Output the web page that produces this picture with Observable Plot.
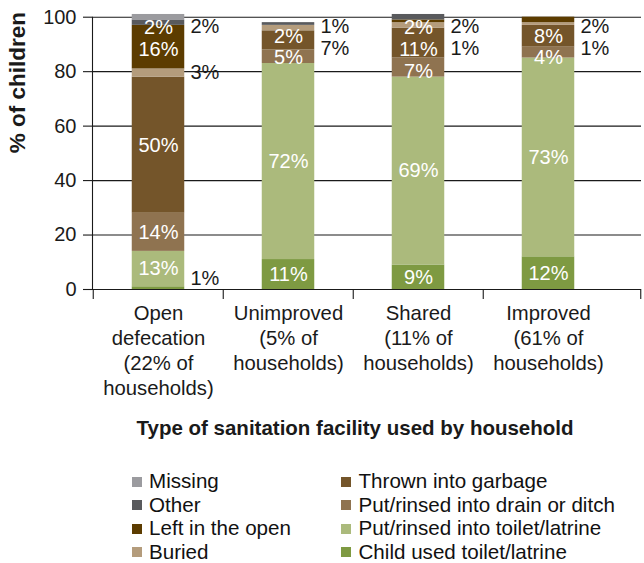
<!DOCTYPE html>
<html><head><meta charset="utf-8">
<script src="https://cdn.jsdelivr.net/npm/d3@7"></script>
<script src="https://cdn.jsdelivr.net/npm/@observablehq/plot@0.6"></script>
<style>
body{margin:0;background:#fff;font-family:"Liberation Sans",Arial,sans-serif;}
#legend{display:grid;grid-auto-flow:column;grid-template-rows:repeat(4,23.5px);grid-template-columns:209.5px auto;margin-left:131.5px;font-size:20.6px;line-height:1.1;color:#111;}
.item{display:flex;align-items:center;white-space:nowrap;}
.sw{width:10px;height:10px;margin-right:7.5px;flex:none;}
</style></head><body><div id="chart"></div><div id="legend"></div>
<script>
// ---- data ----
const categories = [
  "Open\ndefecation\n(22% of\nhouseholds)",
  "Unimproved\n(5% of\nhouseholds)",
  "Shared\n(11% of\nhouseholds)",
  "Improved\n(61% of\nhouseholds)"
];
// stacking order, bottom to top
const series = [
  "Child used toilet/latrine",
  "Put/rinsed into toilet/latrine",
  "Put/rinsed into drain or ditch",
  "Thrown into garbage",
  "Buried",
  "Left in the open",
  "Other",
  "Missing"
];
const childUsed   = [1, 11, 9, 12];
const toiletRinse = [13, 72, 69, 73];
const drainDitch  = [14, 5, 7, 4];
const garbage     = [50, 7, 11, 8];
const buried      = [3, 2, 2, 1];
const leftOpen    = [16, 0, 1, 2];
const otherVals   = [2, 1, 2, 0];
const missingVals = [2, 0, 0, 0];
// which segments carry a label inside the bar / beside the bar
const insideLabels = [
  ["Missing", "Left in the open", "Thrown into garbage", "Put/rinsed into drain or ditch", "Put/rinsed into toilet/latrine"],
  ["Buried", "Put/rinsed into drain or ditch", "Put/rinsed into toilet/latrine", "Child used toilet/latrine"],
  ["Buried", "Thrown into garbage", "Put/rinsed into drain or ditch", "Put/rinsed into toilet/latrine", "Child used toilet/latrine"],
  ["Thrown into garbage", "Put/rinsed into drain or ditch", "Put/rinsed into toilet/latrine", "Child used toilet/latrine"]
];
const outsideLabels = [
  ["Other", "Buried", "Child used toilet/latrine"],
  ["Other", "Thrown into garbage"],
  ["Other", "Left in the open"],
  ["Left in the open", "Buried"]
];
const yTicks = [0, 20, 40, 60, 80, 100];
const yTitle = "% of children";
const xTitle = "Type of sanitation facility used by household";
const legendCol1 = ["Missing", "Other", "Left in the open", "Buried"];
const legendCol2 = ["Thrown into garbage", "Put/rinsed into drain or ditch", "Put/rinsed into toilet/latrine", "Child used toilet/latrine"];

// ---- styling ----
const colors = ["#7e9a42", "#abba7c", "#8f7350", "#74552a", "#b49c7c", "#5c3c00", "#595a5d", "#9b9b9f"];
const valuesBySeries = [childUsed, toiletRinse, drainDitch, garbage, buried, leftOpen, otherVals, missingVals];

// ---- build table ----
const rows = [];
const segs = {};
categories.forEach((cat, ci) => {
  let acc = 0;
  series.forEach((s, si) => {
    const v = valuesBySeries[si][ci];
    rows.push({cat, series: s, value: v});
    segs[ci + "|" + s] = {lo: acc, hi: acc + v, value: v};
    acc += v;
  });
  segs[ci + "|total"] = acc;
});

// label positions follow the stacked segments, nudged apart when they crowd
const gap = 8;
const insideRows = [];
const outsideRows = [];
categories.forEach((cat, ci) => {
  const total = segs[ci + "|total"];
  const ins = insideLabels[ci].map(s => segs[ci + "|" + s]).sort((a, b) => b.hi - a.hi);
  let prevIn = Infinity;
  ins.forEach(g => {
    const y = Math.min((g.lo + g.hi) / 2, total - 5, prevIn - gap);
    prevIn = y;
    insideRows.push({cat, y, text: g.value + "%"});
  });
  const outs = outsideLabels[ci].map(s => segs[ci + "|" + s]).sort((a, b) => b.hi - a.hi);
  let prev = Infinity;
  outs.forEach(g => {
    let y = Math.min((g.lo + g.hi) / 2, prev - gap, 96.5);
    y = Math.max(y, 4);
    prev = y;
    outsideRows.push({cat, y, text: g.value + "%"});
  });
});

const step = (614 - 92) / categories.length;
const barInset = (step - 53) / 2;
const ink = "#1a1a1a";

const chart = Plot.plot({
  width: 644,
  height: 470,
  marginTop: 16.7,
  marginBottom: 181,
  marginLeft: 92,
  marginRight: 3,
  style: {fontFamily: "'Liberation Sans', Arial, sans-serif", fontSize: "20px", color: ink, background: "#fff"},
  x: {domain: categories, range: [92, 614], padding: 0, label: null},
  y: {domain: [0, 100], label: null},
  color: {domain: series, range: colors},
  marks: [
    Plot.gridY(yTicks.filter(d => d > 0), {stroke: ink, strokeOpacity: 1, strokeWidth: 1.1}),
    Plot.barY(rows, {x: "cat", y: "value", fill: "series", insetLeft: barInset, insetRight: barInset}),
    Plot.ruleY([0], {stroke: ink, strokeWidth: 1.1}),
    Plot.frame({anchor: "left", stroke: ink, strokeWidth: 1.1}),
    Plot.ruleX(categories, {x: d => d, y1: 0, y2: 0, insetBottom: -10, dx: -step / 2, stroke: ink, strokeWidth: 1.1}),
    Plot.ruleX([categories[categories.length - 1]], {x: d => d, y1: 0, y2: 0, insetBottom: -10, dx: 641 - (614 - step / 2), stroke: ink, strokeWidth: 1.1}),
    Plot.axisY(yTicks, {tickSize: 9, tickPadding: 7, fontSize: 20, label: null, strokeWidth: 1.1}),
    Plot.axisX({tickSize: 0, tickPadding: 12.5, fontSize: 20.3, lineHeight: 1.23, label: null}),
    Plot.text(insideRows, {x: "cat", y: "y", text: "text", fill: "#fff", fontSize: 20}),
    Plot.text(outsideRows, {x: "cat", y: "y", text: "text", fill: ink, fontSize: 20, textAnchor: "start", dx: 53 / 2 + 5.5}),
    Plot.text([yTitle], {text: d => d, frameAnchor: "left", rotate: -90, dx: -74.5, fontWeight: "bold", fontSize: 22.5}),
    Plot.text([xTitle], {text: d => d, frameAnchor: "bottom", dx: -12, dy: 145, fontWeight: "bold", fontSize: 20.5})
  ]
});
document.getElementById("chart").appendChild(chart);

// ---- legend ----
const legend = document.getElementById("legend");
[...legendCol1, ...legendCol2].forEach(name => {
  const item = document.createElement("div");
  item.className = "item";
  const sw = document.createElement("span");
  sw.className = "sw";
  sw.style.background = colors[series.indexOf(name)];
  const t = document.createElement("span");
  t.textContent = name;
  item.appendChild(sw);
  item.appendChild(t);
  legend.appendChild(item);
});
</script>
</body></html>
